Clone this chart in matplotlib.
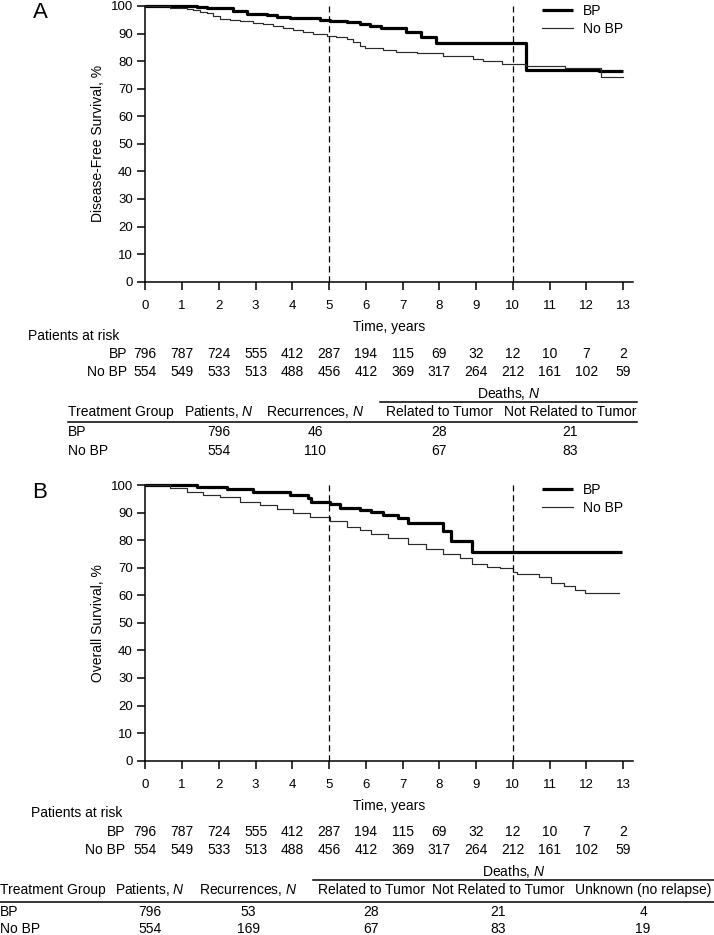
import matplotlib
matplotlib.use('Agg')
import matplotlib.pyplot as plt
import matplotlib.transforms as mtransforms
from matplotlib.lines import Line2D

plt.rcParams['font.family'] = ['Liberation Sans', 'DejaVu Sans']
plt.rcParams['mathtext.fontset'] = 'custom'
plt.rcParams['mathtext.rm'] = 'Liberation Sans'
plt.rcParams['mathtext.it'] = 'Liberation Sans:italic'

W, H = 714, 935

# ---- data ----
years = list(range(14))
risk_bp = [796, 787, 724, 555, 412, 287, 194, 115, 69, 32, 12, 10, 7, 2]
risk_nobp = [554, 549, 533, 513, 488, 456, 412, 369, 317, 264, 212, 161, 102, 59]
landmarks = [5, 10]

# disease-free survival (step times, % after step)
dfs_bp_t = [0, 1.4, 1.67, 2.39, 2.76, 3.3, 3.57, 3.94, 4.75, 5.02, 5.48, 5.84, 6.1, 6.4,
            7.1, 7.5, 7.9, 10.37, 12.35, 13.0]
dfs_bp_s = [100, 99.6, 99.1, 98.1, 97.1, 96.8, 96.0, 95.5, 94.9, 94.5, 94.1, 93.5, 92.9, 92.1,
            90.7, 88.9, 86.5, 76.8, 76.5, 76.5]
dfs_nobp_t = [0, 0.67, 1.13, 1.3, 1.49, 1.67, 1.85, 2.03, 2.3, 2.58, 2.94, 3.2, 3.48, 3.75,
              4.03, 4.3, 4.57, 4.93, 5.2, 5.48, 5.66, 5.84, 5.97, 6.47, 6.83, 7.38, 8.11,
              8.92, 9.19, 9.7, 10.37, 11.41, 12.41, 13.0]
dfs_nobp_s = [100, 99.4, 99.0, 98.5, 98.0, 97.4, 96.2, 95.4, 95.0, 94.7, 93.9, 93.3, 92.6, 92.0,
              91.4, 90.7, 90.0, 89.0, 88.6, 88.1, 87.1, 85.6, 84.9, 84.0, 83.4, 82.8, 81.9,
              80.7, 80.0, 78.8, 78.3, 77.4, 74.4, 74.4]

# overall survival
os_bp_t = [0, 1.4, 2.21, 2.94, 3.94, 4.43, 4.52, 5.02, 5.3, 5.84, 6.15, 6.47, 6.88, 7.15,
           8.11, 8.33, 8.9, 12.96]
os_bp_s = [100, 99.4, 98.6, 97.3, 96.4, 95.2, 93.7, 93.0, 91.8, 90.9, 90.3, 89.1, 87.9, 86.3,
           83.3, 79.8, 75.6, 75.6]
os_nobp_t = [0, 0.67, 1.13, 1.58, 2.03, 2.58, 3.12, 3.57, 4.03, 4.48, 5.02, 5.48, 5.84, 6.15,
             6.6, 7.15, 7.65, 8.1, 8.55, 8.9, 9.3, 9.65, 10.0, 10.1, 10.7, 11.05, 11.4, 11.7,
             11.95, 12.9]
os_nobp_s = [100, 98.8, 97.6, 96.4, 95.5, 93.9, 92.7, 91.2, 89.7, 88.5, 87.1, 84.9, 83.7, 82.1,
             80.9, 78.6, 76.8, 75.0, 73.4, 71.3, 70.4, 69.8, 68.6, 67.6, 66.5, 64.3, 63.4, 61.9,
             60.9, 60.9]

groups = ['BP', 'No BP']
dfs_patients = [796, 554]
dfs_recur = [46, 110]
dfs_death_tumor = [28, 67]
dfs_death_other = [21, 83]
os_patients = [796, 554]
os_recur = [53, 169]
os_death_tumor = [28, 67]
os_death_other = [21, 83]
os_death_unknown = [4, 19]


def fx(px):
    return px / W


def fy(py):
    return 1 - py / H


fig = plt.figure(figsize=(W / 100, H / 100), dpi=100)


def km_panel(top, bottom, letter, ylabel, bp_t, bp_s, nobp_t, nobp_s):
    ax = fig.add_axes([fx(145.3), fy(bottom), fx(632.7) - fx(145.3), (bottom - top) / H])
    l1, = ax.plot(bp_t, bp_s, drawstyle='steps-post', color='black', lw=2.3,
                  clip_on=False, solid_capstyle='butt')
    l2, = ax.plot(nobp_t, nobp_s, drawstyle='steps-post', color='#2a2a2a', lw=0.85,
                  clip_on=False)
    ax.vlines(landmarks, 0, 100, colors='black', lw=0.9, linestyles=(0, (5, 3)))
    ax.set_xlim(0, 13.26)
    ax.set_ylim(0, 100)
    ax.set_xticks(years)
    ax.set_yticks(range(0, 101, 10))
    for s in ['top', 'right']:
        ax.spines[s].set_visible(False)
    for s in ['left', 'bottom']:
        ax.spines[s].set_linewidth(1.1)
    ax.tick_params(axis='both', direction='out', length=6, width=1.1, labelsize=9.5)
    ax.tick_params(axis='x', pad=7)
    ax.tick_params(axis='y', pad=3)
    ax.legend([l1, l2], groups, loc='upper left', bbox_to_anchor=(fx(542), fy(top - 2)),
              bbox_transform=fig.transFigure, frameon=False, handlelength=2.2,
              handletextpad=0.75, labelspacing=0.3, borderpad=0, borderaxespad=0,
              fontsize=10)
    fig.text(fx(40), fy(top + 7), letter, fontsize=16, ha='center', va='center')
    fig.text(fx(98), fy((top + bottom) / 2), ylabel, rotation=90, fontsize=10,
             ha='center', va='center')
    fig.text(fx(389), fy(bottom + 45), 'Time, years', fontsize=10, ha='center', va='center')
    return ax


def risk_rows(ax, y_title, y_bp, y_nobp, x_title, x_lab):
    trans = mtransforms.blended_transform_factory(ax.transData, fig.transFigure)
    fig.text(fx(x_title), fy(y_title), 'Patients at risk', fontsize=10, ha='left', va='center')
    for lab, vals, yy in [('BP', risk_bp, y_bp), ('No BP', risk_nobp, y_nobp)]:
        fig.text(fx(x_lab), fy(yy), lab, fontsize=10, ha='right', va='center')
        for yr, n in zip(years, vals):
            ax.text(yr, fy(yy), str(n), transform=trans, fontsize=10, ha='center', va='center')


def hline(x0, x1, y, lw=1.1):
    fig.add_artist(Line2D([fx(x0), fx(x1)], [fy(y), fy(y)], color='black', lw=lw,
                          transform=fig.transFigure))


def table(y_deaths, deaths_x, y_head, y_line, rows_y, x_group, headers, columns):
    fig.text(fx((deaths_x[0] + deaths_x[1]) / 2), fy(y_deaths), r'Deaths, $N$', fontsize=10,
             ha='center', va='center')
    hline(deaths_x[0], deaths_x[1], y_deaths + 8)
    fig.text(fx(x_group), fy(y_head), 'Treatment Group', fontsize=10, ha='left', va='center')
    for (label, xc) in headers:
        fig.text(fx(xc), fy(y_head), label, fontsize=10, ha='center', va='center')
    hline(x_group, deaths_x[1], y_line)
    for i, g in enumerate(groups):
        fig.text(fx(x_group), fy(rows_y[i]), g, fontsize=10, ha='left', va='center')
        for vals, (label, xc) in zip(columns, headers):
            fig.text(fx(xc), fy(rows_y[i]), str(vals[i]), fontsize=10, ha='center', va='center')


# ---- panel A ----
axA = km_panel(6, 281.7, 'A', 'Disease-Free Survival, %',
               dfs_bp_t, dfs_bp_s, dfs_nobp_t, dfs_nobp_s)
risk_rows(axA, 336, 354, 372, 28, 127)
table(394, (380, 637), 412, 422, (432, 451), 68,
      [(r'Patients, $N$', 219), (r'Recurrences, $N$', 315), ('Related to Tumor', 439),
       ('Not Related to Tumor', 570)],
      [dfs_patients, dfs_recur, dfs_death_tumor, dfs_death_other])

# ---- panel B ----
axB = km_panel(485, 760.7, 'B', 'Overall Survival, %',
               os_bp_t, os_bp_s, os_nobp_t, os_nobp_s)
risk_rows(axB, 813, 832, 850, 31, 125)
table(872, (313, 714), 890, 902, (912, 929), 0,
      [(r'Patients, $N$', 150), (r'Recurrences, $N$', 248), ('Related to Tumor', 371),
       ('Not Related to Tumor', 498), ('Unknown (no relapse)', 643)],
      [os_patients, os_recur, os_death_tumor, os_death_other, os_death_unknown])

fig.savefig('out.png', dpi=100)
